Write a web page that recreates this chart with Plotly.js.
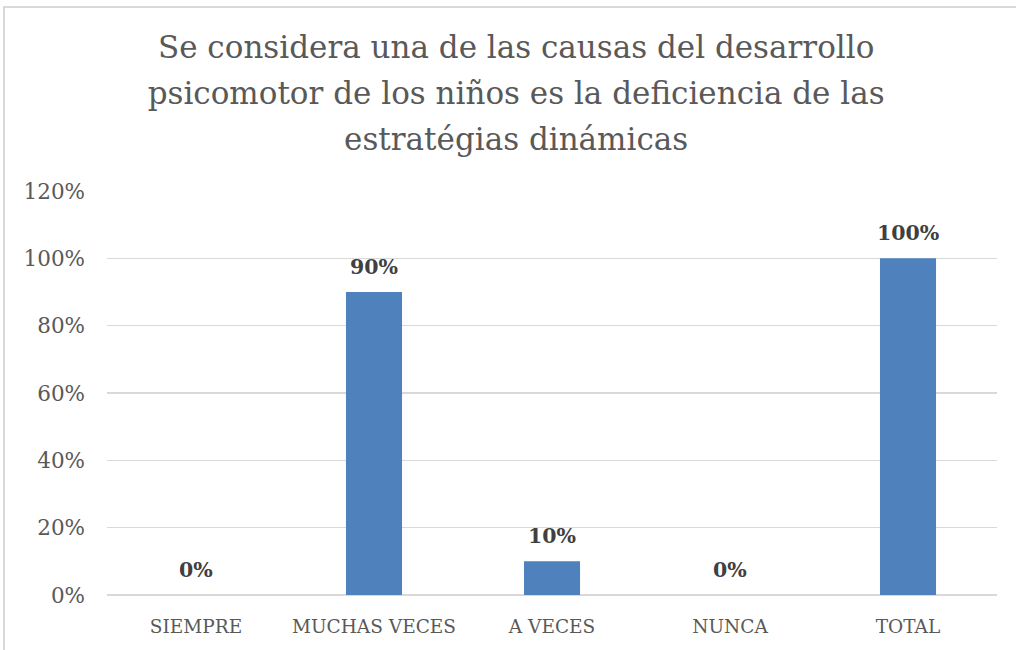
<!DOCTYPE html>
<html><head><meta charset="utf-8">
<script src="https://cdn.plot.ly/plotly-3.0.1.min.js"></script>
<style>
html,body{margin:0;padding:0;background:#fff;overflow:hidden;}
#frame{position:absolute;left:3px;top:6px;width:1030px;height:660px;border-left:2px solid #d9d9d9;border-top:2px solid #d9d9d9;}
#chart{position:absolute;left:0;top:0;width:1016px;height:650px;}
</style></head>
<body>
<div id="frame"></div>
<div id="chart"></div>
<script>
const categories = ["SIEMPRE", "MUCHAS VECES", "A VECES", "NUNCA", "TOTAL"];
const values = [0, 0.90, 0.10, 0, 1.00];
const valueLabels = ["0%", "90%", "10%", "0%", "100%"];
const tickValues = [0, 0.2, 0.4, 0.6, 0.8, 1.0, 1.2];
const tickLabels = ["0%", "20%", "40%", "60%", "80%", "100%", "120%"];
const titleLines = [
  "Se considera una de las causas del desarrollo",
  "psicomotor de los niños es la deficiencia de las",
  "estratégias dinámicas"
];

const FONT = "DejaVu Serif, Liberation Serif, serif";

const trace = {
  type: "bar",
  x: categories,
  y: values,
  marker: {color: "#4f81bd"},
  hoverinfo: "none"
};

const annotations = categories.map((c, i) => ({
  x: c, y: values[i], xref: "x", yref: "y",
  text: "<b>" + valueLabels[i] + "</b>",
  showarrow: false, yanchor: "bottom", yshift: 11,
  font: {family: FONT, size: 20.5, color: "#404040"}
}));

const layout = {
  width: 1016, height: 650,
  paper_bgcolor: "rgba(0,0,0,0)", plot_bgcolor: "rgba(0,0,0,0)",
  margin: {l: 107, r: 19, t: 191, b: 55},
  bargap: 0.685,
  showlegend: false,
  title: {
    text: titleLines.map(t => '<span style="font-size:31px">' + t + '</span>').join("<br>"),
    font: {family: FONT, size: 35.4, color: "#595959"},
    x: 0.508, xref: "container", xanchor: "center",
    y: 1 - 58/650, yref: "container", yanchor: "top"
  },
  xaxis: {
    type: "category",
    tickfont: {family: FONT, size: 18.5, color: "#595959"},
    showgrid: false, showline: false, ticks: "", zeroline: false,
    ticklabelstandoff: 18
  },
  yaxis: {
    range: [0, 1.2],
    tickvals: tickValues, ticktext: tickLabels,
    tickfont: {family: FONT, size: 21.5, color: "#595959"},
    showgrid: true, gridcolor: "#d9d9d9", gridwidth: 1.5,
    zeroline: true, zerolinecolor: "#d9d9d9", zerolinewidth: 1.5,
    showline: false, ticks: "", ticklabelstandoff: 21
  },
  annotations: annotations
};

Plotly.newPlot("chart", [trace], layout, {displayModeBar: false, staticPlot: true});
</script>
</body></html>
